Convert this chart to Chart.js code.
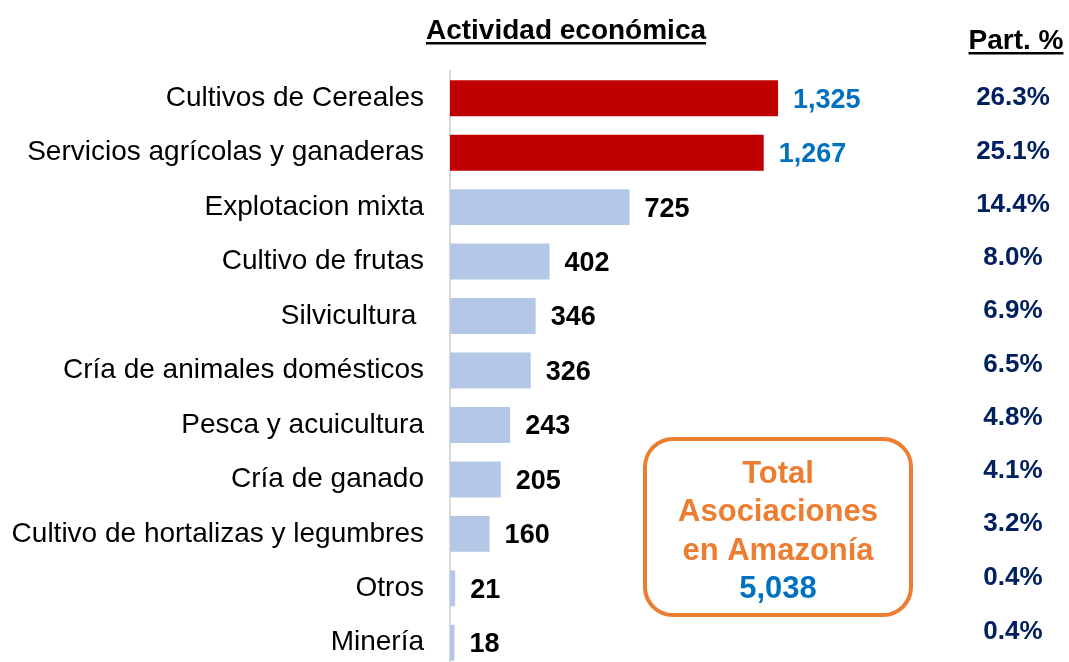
<!DOCTYPE html>
<html>
<head>
<meta charset="utf-8">
<script src="https://cdn.jsdelivr.net/npm/chart.js@4/dist/chart.umd.min.js"></script>
<style>
html,body{margin:0;padding:0;background:#fff;overflow:hidden;}
#wrap{width:1069px;height:662px;overflow:hidden;}
canvas{display:block;}
</style>
</head>
<body>
<div id="wrap"><canvas id="c" width="1069" height="670" style="width:1069px;height:670px"></canvas></div>
<script>
const categories = ["Cultivos de Cereales","Servicios agrícolas y ganaderas","Explotacion mixta","Cultivo de frutas","Silvicultura ","Cría de animales domésticos","Pesca y acuicultura","Cría de ganado","Cultivo de hortalizas y legumbres","Otros","Minería"];
const values = [1325,1267,725,402,346,326,243,205,160,21,18];
const shares = ["26.3%","25.1%","14.4%","8.0%","6.9%","6.5%","4.8%","4.1%","3.2%","0.4%","0.4%"];
const highlighted = [true,true,false,false,false,false,false,false,false,false,false];
const totalLines = ["Total","Asociaciones","en Amazonía"];
const totalValue = "5,038";
const titleText = "Actividad económica";
const shareTitle = "Part. %";

const FONT = '"Liberation Sans", Arial, sans-serif';
const RED = '#C00000', LIGHT = '#B4C7E7', BLUE = '#0070C0', NAVY = '#002060', ORANGE = '#ED7D31';

function fmt(n){ return n.toLocaleString('en-US'); }

function underlinedText(ctx, text, x, y, font, color){
  ctx.font = font; ctx.fillStyle = color; ctx.textAlign = 'center'; ctx.textBaseline = 'alphabetic';
  ctx.fillText(text, x, y);
  const w = ctx.measureText(text).width;
  ctx.fillRect(x - w/2, y + 3, w, 2.5);
}

const overlay = {
  id: 'overlay',
  afterDatasetsDraw(chart){
    const ctx = chart.ctx;
    const ys = chart.scales.y;
    const meta = chart.getDatasetMeta(0);
    ctx.save();
    // value labels
    ctx.font = 'bold 27px ' + FONT;
    ctx.textAlign = 'left'; ctx.textBaseline = 'middle';
    meta.data.forEach((bar, i) => {
      ctx.fillStyle = highlighted[i] ? BLUE : '#000';
      ctx.fillText(fmt(values[i]), bar.x + 15, bar.y + 2);
    });
    // share column
    ctx.font = 'bold 26px ' + FONT;
    ctx.textAlign = 'center'; ctx.fillStyle = NAVY;
    shares.forEach((s, i) => {
      const y = ys.getPixelForValue(i) - Math.min(i, 9) * 1.2;
      ctx.fillText(s, 1013, y);
    });
    // headers
    underlinedText(ctx, titleText, 566, 39, 'bold 28px ' + FONT, '#000');
    underlinedText(ctx, shareTitle, 1016, 49, 'bold 28px ' + FONT, '#000');
    // total box
    const bx = 645, by = 439, bw = 266, bh = 176, r = 28;
    ctx.beginPath();
    ctx.roundRect(bx, by, bw, bh, r);
    ctx.lineWidth = 4; ctx.strokeStyle = ORANGE; ctx.stroke();
    ctx.font = 'bold 31px ' + FONT;
    ctx.textAlign = 'center'; ctx.textBaseline = 'middle';
    ctx.fillStyle = ORANGE;
    totalLines.forEach((t, i) => ctx.fillText(t, bx + bw/2, 474 + i * 38.5));
    ctx.fillStyle = BLUE;
    ctx.fillText(totalValue, bx + bw/2, 474 + 3 * 38.5);
    ctx.restore();
  }
};

new Chart(document.getElementById('c'), {
  type: 'bar',
  data: {
    labels: categories,
    datasets: [{
      data: values,
      backgroundColor: highlighted.map(h => h ? RED : LIGHT),
      borderWidth: 0,
      categoryPercentage: 1,
      barPercentage: 0.66
    }]
  },
  options: {
    indexAxis: 'y',
    responsive: false,
    animation: false,
    devicePixelRatio: 1,
    layout: { padding: { top: 71, left: 0, right: 0, bottom: 0 } },
    plugins: { legend: { display: false }, tooltip: { enabled: false } },
    scales: {
      x: { display: false, min: 0, max: 2500 },
      y: {
        grid: { display: false, drawTicks: false },
        border: { display: true, color: '#D9D9D9', width: 2 },
        ticks: { color: '#000', font: { family: FONT, size: 28 }, padding: 26 },
        afterFit(scale){ scale.width = 450; scale.paddingTop = 0; scale.paddingBottom = 0; }
      }
    }
  },
  plugins: [overlay]
});
</script>
</body>
</html>
